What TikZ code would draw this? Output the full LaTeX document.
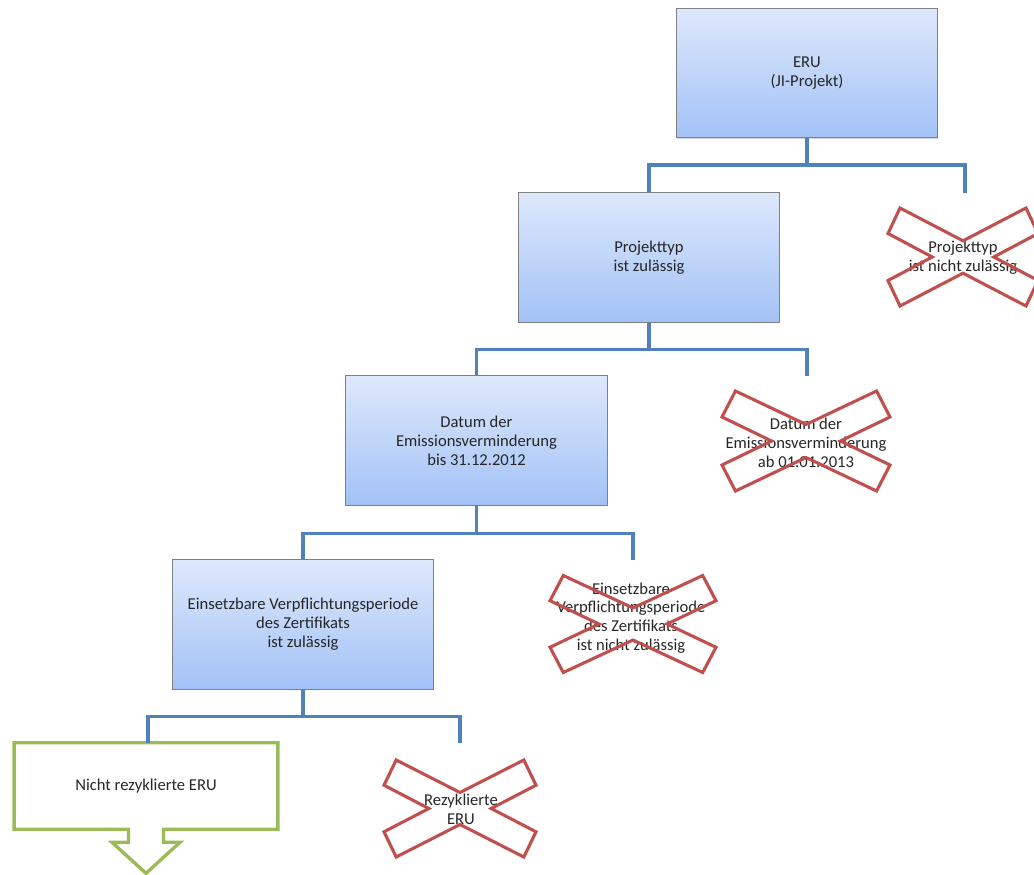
\documentclass[tikz,border=0pt]{standalone}
\usepackage{fontspec}
\setmainfont{Carlito}
\usetikzlibrary{positioning,calc,shadows}

\definecolor{linkblue}{RGB}{79,129,189}
\definecolor{crossred}{RGB}{192,80,77}
\definecolor{okgreen}{RGB}{155,187,89}
\definecolor{boxtop}{RGB}{221,232,251}
\definecolor{boxbottom}{RGB}{162,194,246}
\definecolor{boxedge}{RGB}{128,128,128}
\definecolor{inktext}{RGB}{38,38,38}

\tikzset{
  chartfont/.style={font=\fontsize{11.8pt}{13.4pt}\selectfont, text=inktext, align=center},
  decisionbox/.style={chartfont, draw=boxedge, line width=0.7pt,
    top color=boxtop, bottom color=boxbottom,
    minimum width=6.525cm, minimum height=3.225cm,
    drop shadow={shadow xshift=0.6pt, shadow yshift=-1pt, opacity=0.35}},
  resultbox/.style={chartfont, minimum width=6.575cm, minimum height=2.15cm},
  resultline/.style={draw=okgreen, line width=2.4pt},
  crosstext/.style={chartfont, inner sep=0pt},
  crossline/.style={draw=crossred, line width=2.2pt},
  link/.style={draw=linkblue, line width=2.8pt}
}

% red cross outline: center, half width, half height
\newcommand{\drawcross}[3]{%
  \draw[crossline,shift={#1}]
    ({-0.84*#2},{-#3}) -- (0,{-0.33*#3}) -- ({0.84*#2},{-#3}) -- (#2,{-0.48*#3})
    -- ({0.41*#2},0) -- (#2,{0.48*#3}) -- ({0.84*#2},#3) -- (0,{0.33*#3})
    -- ({-0.84*#2},#3) -- (-#2,{0.48*#3}) -- ({-0.41*#2},0) -- (-#2,{-0.48*#3}) -- cycle;}

\begin{document}
\begin{tikzpicture}[x=0.025cm,y=-0.025cm]
  \useasboundingbox (0,0) rectangle (1034,875);

  % accepted path
  \node[decisionbox] (eru) at (807,73) {ERU\\(JI-Projekt)};
  \node[decisionbox] (proj) at (649,257.5) {Projekttyp\\ist zulässig};
  \node[decisionbox] (datum) at (476.5,440.5) {Datum der\\Emissionsverminderung\\bis 31.12.2012};
  \node[decisionbox] (periode) at (303,624.5) {Einsetzbare Verpflichtungsperiode\\des Zertifikats\\ist zulässig};

  % result with down arrow
  \node[resultbox] (ok) at (146,786) {Nicht rezyklierte ERU};
  \draw[resultline] (ok.north west) -- (ok.north east) -- (ok.south east)
    -- ($(ok.south)+(17.5,0)$) -- ++(0,13) -- ++(16.5,0) -- ($(ok.south)+(0,44)$)
    -- ($(ok.south)+(-34,13)$) -- ++(16.5,0) -- ($(ok.south)+(-17.5,0)$)
    -- (ok.south west) -- cycle;

  % rejected branches
  \node[crosstext] (nproj) at (963,258) {Projekttyp\\ist nicht zulässig};
  \node[crosstext] (ndatum) at (806,443) {Datum der\\Emissionsverminderung\\ab 01.01.2013};
  \node[crosstext] (nperiode) at (631,618) {Einsetzbare\\Verpflichtungsperiode\\des Zertifikats\\ist nicht zulässig};
  \node[crosstext] (nrecyc) at (461,809) {Rezyklierte\\ERU};
  \drawcross{(963,257)}{75}{49}
  \drawcross{(806,441)}{84}{50}
  \drawcross{(633,624)}{83}{48.5}
  \drawcross{(460,808.5)}{76}{48.5}

  % connectors
  \coordinate (e1) at (965,193);
  \coordinate (e2) at (807,376);
  \coordinate (e3) at (633,560);
  \coordinate (e4) at (460,743);
  \draw[link] (eru.south) -- ++(0,27) coordinate (j1);
  \draw[link] (proj.north) |- (j1) -| (e1);
  \draw[link] (proj.south) -- ++(0,27) coordinate (j2);
  \draw[link] (datum.north) |- (j2) -| (e2);
  \draw[link] (datum.south) -- ++(0,28) coordinate (j3);
  \draw[link] (periode.north) |- (j3) -| (e3);
  \draw[link] (periode.south) -- ++(0,27) coordinate (j4);
  \draw[link] ([xshift=0.05cm]ok.north) |- (j4) -| (e4);
\end{tikzpicture}
\end{document}
